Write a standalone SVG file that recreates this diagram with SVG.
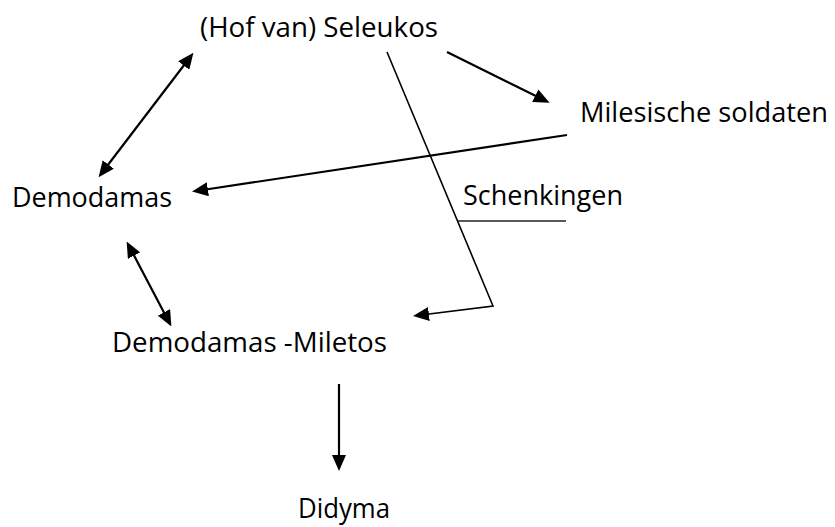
<svg xmlns="http://www.w3.org/2000/svg" width="835" height="527" viewBox="0 0 835 527">
<style>
text{font-family:"Open Sans","Noto Sans","Liberation Sans",sans-serif;font-size:27px;fill:#000}
.c{stroke:#000;stroke-width:2.2;fill:none}
.t{stroke:#000;stroke-width:1.6;fill:none}
</style>
<defs>
<marker id="ah" markerUnits="userSpaceOnUse" markerWidth="16" markerHeight="14" viewBox="0 0 16 14" refX="12" refY="7" orient="auto-start-reverse">
<path d="M0,0 L16,7 L0,14 z" fill="#000"/>
</marker>
</defs>
<rect width="835" height="527" fill="#fff"/>
<g id="connectors">
<line class="c" x1="101" y1="174" x2="191" y2="56" marker-start="url(#ah)" marker-end="url(#ah)"/>
<line class="c" x1="447" y1="52" x2="546" y2="101" marker-end="url(#ah)"/>
<line class="c" x1="567" y1="135" x2="196" y2="191" marker-end="url(#ah)"/>
<polyline class="t" points="387,52 493,306 417,315.5" marker-end="url(#ah)"/>
<line x1="458" y1="221" x2="566" y2="221" stroke="#222" stroke-width="1.4"/>
<line class="c" x1="128.5" y1="245" x2="169.5" y2="323" marker-start="url(#ah)" marker-end="url(#ah)"/>
<line class="c" x1="339" y1="384" x2="339" y2="467" marker-end="url(#ah)"/>
</g>
<g id="seleukos"><text x="200" y="37" textLength="238" lengthAdjust="spacingAndGlyphs">(Hof van) Seleukos</text></g>
<g id="milesische"><text x="580" y="122" textLength="248" lengthAdjust="spacingAndGlyphs">Milesische soldaten</text></g>
<g id="demodamas"><text x="12" y="207" textLength="160" lengthAdjust="spacingAndGlyphs">Demodamas</text></g>
<g id="schenkingen"><text x="463" y="205" textLength="160" lengthAdjust="spacingAndGlyphs">Schenkingen</text></g>
<g id="demodamas-miletos"><text x="112" y="352" textLength="275" lengthAdjust="spacingAndGlyphs">Demodamas -Miletos</text></g>
<g id="didyma"><text x="298" y="518" textLength="92" lengthAdjust="spacingAndGlyphs">Didyma</text></g>
</svg>
